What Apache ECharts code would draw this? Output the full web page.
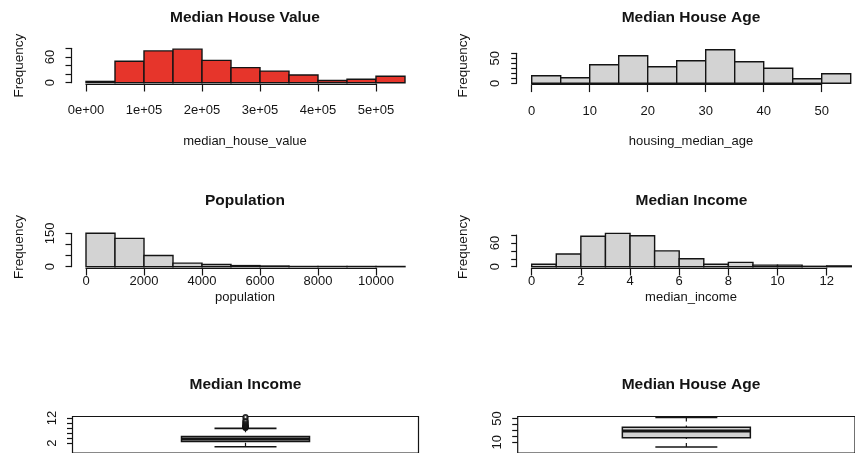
<!DOCTYPE html>
<html>
<head>
<meta charset="utf-8">
<script src="https://cdn.jsdelivr.net/npm/echarts@6/dist/echarts.min.js"></script>
<style>
  html, body { margin: 0; padding: 0; background: #ffffff; }
  #chart { width: 855px; height: 453px; }
</style>
</head>
<body>
<div id="chart"></div>
<script>
// ---- Histogram data: bin break points and counts ----
const houseValueBreaks = [0, 50000, 100000, 150000, 200000, 250000, 300000, 350000, 400000, 450000, 500000, 550000];
const houseValueCounts = [3, 50, 74, 78, 52, 35, 27, 18, 5, 8, 15];

const houseAgeBreaks = [0, 5, 10, 15, 20, 25, 30, 35, 40, 45, 50, 55];
const houseAgeCounts = [15, 11, 37, 55, 33, 45, 67, 43, 30, 9, 19];

const populationBreaks = [0, 1000, 2000, 3000, 4000, 5000, 6000, 7000, 8000, 9000, 10000, 11000];
const populationCounts = [150, 127, 50, 16, 10, 5, 3, 1, 1, 1, 1];

const incomeBreaks = [0, 1, 2, 3, 4, 5, 6, 7, 8, 9, 10, 11, 12, 13];
const incomeCounts = [6, 32, 77, 84, 78, 40, 20, 6, 11, 4, 4, 1, 2];

// ---- Boxplot data: [lower whisker, Q1, median, Q3, upper whisker] and outliers ----
const incomeBoxStats = [0.5, 2.6, 3.6, 4.6, 7.9];
const incomeOutliers = [8.05, 8.1, 8.2, 8.3, 8.4, 8.5, 8.6, 8.7, 8.8, 8.9, 8.95, 9.2, 9.4, 9.7, 9.9, 10.1, 10.4, 10.6, 10.9, 11.3, 12.2, 12.4];
const ageBoxStats = [2, 17.5, 29, 35.5, 52];

// ---- Tick labels ----
const houseValueTicks = [0, 100000, 200000, 300000, 400000, 500000];
const houseValueTickLabels = ['0e+00', '1e+05', '2e+05', '3e+05', '4e+05', '5e+05'];
const houseValueYLabels = [0, 60];
const houseAgeYLabels = [0, 50];
const populationYLabels = [0, 150];
const incomeYLabels = [0, 60];
const incomeBoxTicks = [2, 4, 6, 8, 10, 12];
const incomeBoxYLabels = [2, 12];
const ageBoxTicks = [10, 20, 30, 40, 50];
const ageBoxYLabels = [10, 50];

// ---- Text ----
const panelTitles = ['Median House Value', 'Median House Age', 'Population', 'Median Income', 'Median Income', 'Median House Age'];
const xTitles = ['median_house_value', 'housing_median_age', 'population', 'median_income'];
const yTitle = 'Frequency';

// ---- Styles ----
const FONT = '"Liberation Sans", Arial, Helvetica, sans-serif';
const INK = '#141414';
const RED = '#e6352b';
const GREY = '#d3d3d3';
const BOX_W = 128;
const CAP_W = 62;

function toBins(breaks, counts) {
  return counts.map((c, i) => [breaks[i], breaks[i + 1], c]);
}

function histRender(fill) {
  return function (params, api) {
    const a = api.coord([api.value(0), api.value(2)]);
    const b = api.coord([api.value(1), 0]);
    return {
      type: 'rect',
      shape: { x: a[0], y: a[1], width: b[0] - a[0], height: b[1] - a[1] },
      style: { fill: fill, stroke: INK, lineWidth: 1.4 }
    };
  };
}

function boxRender(fill) {
  return function (params, api) {
    const cx = api.coord([api.value(0), 0])[0];
    const y = (i) => api.coord([api.value(0), api.value(i)])[1];
    const lo = y(1), q1 = y(2), med = y(3), q3 = y(4), hi = y(5);
    const line = (x1, y1, x2, y2, w, dash) => ({
      type: 'line',
      shape: { x1: x1, y1: y1, x2: x2, y2: y2 },
      style: { stroke: INK, lineWidth: w, lineDash: dash || null }
    });
    return {
      type: 'group',
      children: [
        line(cx, hi, cx, q3, 1.2, [4, 4]),
        line(cx, lo, cx, q1, 1.2, [4, 4]),
        line(cx - CAP_W / 2, hi, cx + CAP_W / 2, hi, 1.6),
        line(cx - CAP_W / 2, lo, cx + CAP_W / 2, lo, 1.6),
        {
          type: 'rect',
          shape: { x: cx - BOX_W / 2, y: q3, width: BOX_W, height: q1 - q3 },
          style: { fill: fill, stroke: INK, lineWidth: 1.5 }
        },
        line(cx - BOX_W / 2, med, cx + BOX_W / 2, med, 3)
      ]
    };
  };
}

const labelStyle = { color: INK, fontFamily: FONT, fontSize: 13 };

function histXAxis(grid, max, interval, formatter) {
  return {
    gridIndex: grid, type: 'value', min: 0, max: max, interval: interval,
    offset: 1.3,
    axisLine: { show: true, onZero: false, lineStyle: { color: INK, width: 1.2 } },
    axisTick: { show: true, length: 7.5, lineStyle: { color: INK, width: 1.2 } },
    axisLabel: Object.assign({
      margin: grid < 2 ? 20 : 7,
      formatter: formatter || ((v) => String(v))
    }, labelStyle),
    splitLine: { show: false }
  };
}

function histYAxis(grid, max, interval, shown) {
  return {
    gridIndex: grid, type: 'value', min: 0, max: max, interval: interval,
    offset: 15,
    axisLine: { show: true, onZero: false, lineStyle: { color: INK, width: 1.2 } },
    axisTick: { show: true, length: 5.5, lineStyle: { color: INK, width: 1.2 } },
    axisLabel: Object.assign({
      rotate: 90, margin: 14.5,
      formatter: (v) => (shown.indexOf(v) >= 0 ? String(v) : '')
    }, labelStyle),
    splitLine: { show: false }
  };
}

function boxYAxis(grid, min, max, ticks, shown) {
  return {
    gridIndex: grid, type: 'value', min: min, max: max,
    axisLine: { show: false },
    axisTick: { show: true, length: 5.5, customValues: ticks, lineStyle: { color: INK, width: 1.2 } },
    axisLabel: Object.assign({ rotate: 90, margin: 14, customValues: shown }, labelStyle),
    splitLine: { show: false }
  };
}

function text(x, y, str, opts) {
  return Object.assign({
    type: 'text', x: x, y: y, silent: true,
    style: Object.assign({
      text: str, fill: INK, font: '13px ' + FONT, align: 'center', verticalAlign: 'middle'
    }, (opts && opts.style) || {})
  }, opts && opts.rotation ? { rotation: opts.rotation } : {});
}
const bold = { style: { font: 'bold 15.5px ' + FONT } };
const vert = { rotation: Math.PI / 2, style: { font: '13.5px ' + FONT } };

const option = {
  animation: false,
  backgroundColor: '#ffffff',
  grid: [
    { left: 86, top: 48.3, width: 290, height: 34.4 },
    { left: 531.7, top: 53.3, width: 290, height: 30 },
    { left: 86, top: 233.3, width: 290, height: 33.4 },
    { left: 531.7, top: 235, width: 295, height: 31.7 },
    { left: 72.5, top: 416.5, width: 346, height: 40, show: true, borderColor: INK, borderWidth: 1.2, backgroundColor: 'transparent' },
    { left: 517.7, top: 416.5, width: 346.6, height: 40, show: true, borderColor: INK, borderWidth: 1.2, backgroundColor: 'transparent' }
  ],
  xAxis: [
    histXAxis(0, 500000, 100000, (v) => houseValueTickLabels[houseValueTicks.indexOf(v)]),
    histXAxis(1, 50, 10),
    histXAxis(2, 10000, 2000),
    histXAxis(3, 12, 2),
    { gridIndex: 4, type: 'category', data: ['median_income'], show: false },
    { gridIndex: 5, type: 'category', data: ['housing_median_age'], show: false }
  ],
  yAxis: [
    histYAxis(0, 80, 20, houseValueYLabels),
    histYAxis(1, 60, 10, houseAgeYLabels),
    histYAxis(2, 150, 50, populationYLabels),
    histYAxis(3, 80, 20, incomeYLabels),
    boxYAxis(4, -2.0, 12.65, incomeBoxTicks, incomeBoxYLabels),
    boxYAxis(5, -8.0, 53.5, ageBoxTicks, ageBoxYLabels)
  ],
  series: [
    { type: 'custom', xAxisIndex: 0, yAxisIndex: 0, clip: false, renderItem: histRender(RED),
      encode: { x: [0, 1], y: 2 }, data: toBins(houseValueBreaks, houseValueCounts) },
    { type: 'custom', xAxisIndex: 1, yAxisIndex: 1, clip: false, renderItem: histRender(GREY),
      encode: { x: [0, 1], y: 2 }, data: toBins(houseAgeBreaks, houseAgeCounts) },
    { type: 'custom', xAxisIndex: 2, yAxisIndex: 2, clip: false, renderItem: histRender(GREY),
      encode: { x: [0, 1], y: 2 }, data: toBins(populationBreaks, populationCounts) },
    { type: 'custom', xAxisIndex: 3, yAxisIndex: 3, clip: false, renderItem: histRender(GREY),
      encode: { x: [0, 1], y: 2 }, data: toBins(incomeBreaks, incomeCounts) },
    { type: 'custom', xAxisIndex: 4, yAxisIndex: 4, renderItem: boxRender(GREY),
      encode: { x: 0, y: [1, 2, 3, 4, 5] }, data: [[0].concat(incomeBoxStats)] },
    { type: 'scatter', xAxisIndex: 4, yAxisIndex: 4, symbol: 'emptyCircle', symbolSize: 4,
      itemStyle: { color: INK, borderColor: INK, borderWidth: 1.2 },
      data: incomeOutliers.map((v) => [0, v]) },
    { type: 'custom', xAxisIndex: 5, yAxisIndex: 5, renderItem: boxRender(GREY),
      encode: { x: 0, y: [1, 2, 3, 4, 5] }, data: [[0].concat(ageBoxStats)] }
  ],
  graphic: [
    text(245, 17.5, panelTitles[0], bold),
    text(691, 17.5, panelTitles[1], bold),
    text(245, 200.5, panelTitles[2], bold),
    text(691.5, 200.5, panelTitles[3], bold),
    text(245.5, 385, panelTitles[4], bold),
    text(691, 385, panelTitles[5], bold),
    text(245, 141.7, xTitles[0]),
    text(691, 141.7, xTitles[1]),
    text(245, 297, xTitles[2]),
    text(691, 297, xTitles[3]),
    text(19, 65.7, yTitle, vert),
    text(463, 65.7, yTitle, vert),
    text(19, 247, yTitle, vert),
    text(463, 247, yTitle, vert)
  ]
};

const chart = echarts.init(document.getElementById('chart'), null, { renderer: 'canvas' });
chart.setOption(option);
</script>
</body>
</html>
